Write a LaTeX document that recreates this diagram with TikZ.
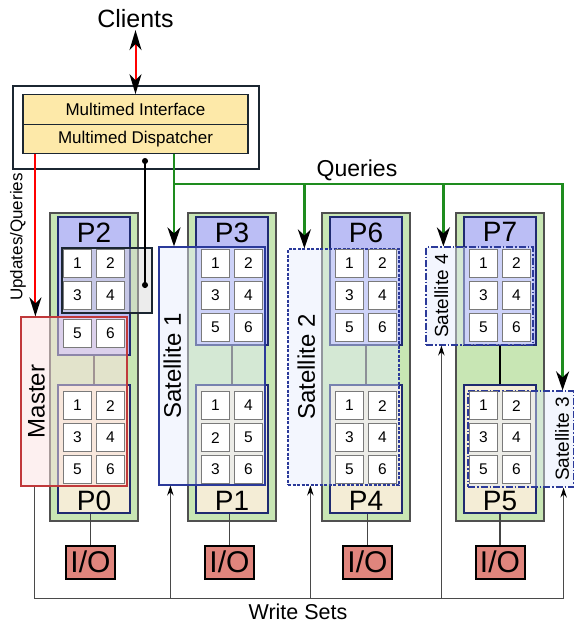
\documentclass[tikz,border=0pt]{standalone}
\usepackage{fontspec}
\setmainfont{Liberation Sans}
\usetikzlibrary{arrows.meta,positioning}

\definecolor{columngreen}{HTML}{C8E6B4}
\definecolor{columnedge}{HTML}{505050}
\definecolor{parttop}{HTML}{BBBEF5}
\definecolor{partbottom}{HTML}{F4EDD6}
\definecolor{partedge}{HTML}{1F2A70}
\definecolor{celledge}{HTML}{7A7A7A}
\definecolor{linkgray}{HTML}{454545}
\definecolor{frontyellow}{HTML}{FDE9A9}
\definecolor{frontedge}{HTML}{1B2631}
\definecolor{iored}{HTML}{E0857D}
\definecolor{masterred}{HTML}{C0393B}
\definecolor{masterpink}{HTML}{FCE2E2}
\definecolor{satblue}{HTML}{2B3A9A}
\definecolor{satfill}{HTML}{E4ECFC}
\definecolor{monitorgray}{HTML}{D4D4D4}
\definecolor{querygreen}{HTML}{1E8C1E}
\definecolor{writegray}{HTML}{4A4A4A}

\begin{document}
\begin{tikzpicture}[
		x=1pt, y=-1pt,
		column/.style={draw=columnedge, fill=columngreen, line width=1.2pt, minimum width=88pt, minimum height=308pt},
		top part/.style={draw=partedge, fill=parttop, line width=1.5pt, minimum width=72pt, minimum height=128pt},
		bottom part/.style={draw=partedge, fill=partbottom, line width=1.5pt, minimum width=72pt, minimum height=128pt},
		cell/.style={draw=celledge, fill=white, line width=1.3pt, minimum size=28pt, inner sep=0pt, font=\fontsize{15.5}{16}\selectfont},
		part name/.style={inner sep=0pt, font=\fontsize{28}{28}\selectfont},
		part link/.style={draw=linkgray, line width=1.5pt},
		io/.style={draw=black, fill=iored, line width=2pt, minimum width=49pt, minimum height=33pt, inner sep=0pt, font=\fontsize{30}{30}\selectfont},
		layer/.style={draw=frontedge, fill=frontyellow, line width=1.3pt, minimum width=225pt, minimum height=29.5pt, font=\fontsize{17}{17}\selectfont},
		master/.style={draw=masterred, fill=masterpink, fill opacity=0.5, line width=1.2pt, minimum width=106pt, minimum height=169pt},
		monitor/.style={draw=frontedge, fill=monitorgray, fill opacity=0.45, line width=1.3pt, minimum width=90pt, minimum height=65pt},
		satellite/.style={draw=satblue, fill=satfill, fill opacity=0.45, line width=1.2pt},
		dashdot/.style={dash pattern=on 7pt off 2pt on 1.5pt off 2pt},
		side name/.style={rotate=90, inner sep=0pt, font=\fontsize{24}{24}\selectfont},
		small side name/.style={rotate=90, inner sep=0pt, font=\fontsize{19}{19}\selectfont},
		caption/.style={inner sep=0pt, font=\fontsize{23}{23}\selectfont},
		query/.style={draw=querygreen, line width=2.3pt, -{Stealth[black, length=19pt, width=13pt, inset=6pt]}},
		update/.style={draw=red, line width=2pt, -{Stealth[black, length=19pt, width=12pt, inset=6pt]}},
		write set/.style={draw=writegray, line width=0.9pt, -{Stealth[black, length=10pt, width=6.5pt, inset=3.5pt]}},
	]
	\useasboundingbox (0,0) rectangle (575,625);

	% front end
	\node[draw=frontedge, line width=1.8pt, minimum width=246pt, minimum height=83pt] (frontend) at (136,127.5) {};
	\node[layer] (interface) at (135.5,109.5) {Multimed Interface};
	\node[layer] (dispatcher) at (135.5,139) {Multimed Dispatcher};
	\node[inner sep=2pt, font=\fontsize{25}{25}\selectfont, above=64pt of interface] (clients) {Clients};

	% nodes
	\node[column] (column 1) at (94,367) {};
	\node[column] (column 2) at (232,367) {};
	\node[column] (column 3) at (366,367) {};
	\node[column] (column 4) at (500,367) {};

	\node[top part, minimum height=138pt, below=4pt of column 1.north] (p2) {};
	\node[top part, below=4pt of column 2.north] (p3) {};
	\node[top part, below=4pt of column 3.north] (p6) {};
	\node[top part, below=4pt of column 4.north] (p7) {};
	\node[bottom part, above=8pt of column 1.south] (p0) {};
	\node[bottom part, above=8pt of column 2.south] (p1) {};
	\node[bottom part, above=8pt of column 3.south] (p4) {};
	\node[bottom part, above=8pt of column 4.south] (p5) {};

	\draw[part link] (p2) -- (p0);
	\draw[part link] (p3) -- (p1);
	\draw[part link] (p6) -- (p4);
	\draw[part link, draw=black, line width=2pt] (p7) -- (p5);

	\node[io, below=23pt of column 1, xshift=-3.5pt] (io 0) {I/O};
	\node[io, below=23pt of column 2, xshift=-2.5pt] (io 1) {I/O};
	\node[io, below=23pt of column 3, xshift=1.5pt] (io 4) {I/O};
	\node[io, below=23pt of column 4] (io 5) {I/O};
	\draw[part link, line width=1.2pt] (io 0) -- (io 0 |- p0.south);
	\draw[part link, line width=1.2pt] (io 1) -- (io 1 |- p1.south);
	\draw[part link, line width=1.2pt] (io 4) -- (io 4 |- p4.south);
	\draw[part link, line width=1.2pt] (io 5) -- (io 5 |- p5.south);

	% replicas
	\node[master] (master) at (74,401.5) {};
	\node[monitor] (monitor) at (107,280.5) {};
	\node[satellite, minimum width=106pt, minimum height=238pt] (satellite 1) at (212,366) {};
	\node[satellite, dash pattern=on 3pt off 1.5pt, minimum width=111pt, minimum height=236pt] (satellite 2) at (343.5,367) {};
	\node[satellite, dashdot, minimum width=107pt, minimum height=98pt] (satellite 4) at (479.5,296) {};
	\node[satellite, dashdot, minimum width=105.5pt, minimum height=96pt] (satellite 3) at (520.75,439) {};

	% partitions
	\foreach \part/\last in {p2/117,p3/111,p6/111,p7/111}
		\foreach \n/\dx/\dy in {1/-16.5/47,2/16.5/47,3/-16.5/79,4/16.5/79,5/-16.5/\last,6/16.5/\last}
			\node[cell] (\part-\n) at ([xshift=\dx pt, yshift=-\dy pt]\part.north) {\n};
	\foreach \n/\m/\dx/\dy in {1/1/-16.5/108,2/4/16.5/108,3/2/-16.5/76,4/5/16.5/76,5/3/-16.5/44,6/6/16.5/44} {
		\foreach \part in {p0,p4,p5}
			\node[cell] (\part-\n) at ([xshift=\dx pt, yshift=\dy pt]\part.south) {\n};
		\node[cell] (p1-\n) at ([xshift=\dx pt, yshift=\dy pt]p1.south) {\m};
	}

	\node[part name, below=6pt of p2.north] (p2 name) {P2};
	\node[part name, below=6pt of p3.north] (p3 name) {P3};
	\node[part name, below=6pt of p6.north] (p6 name) {P6};
	\node[part name, below=6pt of p7.north] (p7 name) {P7};
	\node[part name, above=3pt of p0.south] (p0 name) {P0};
	\node[part name, above=3pt of p1.south] (p1 name) {P1};
	\node[part name, above=3pt of p4.south] (p4 name) {P4};
	\node[part name, above=3pt of p5.south] (p5 name) {P5};

	\node[side name] (master name) at ([xshift=16pt]master.west) {Master};
	\node[side name] (satellite 1 name) at ([xshift=14pt]satellite 1.west) {Satellite 1};
	\node[side name] (satellite 2 name) at ([xshift=19pt]satellite 2.west) {Satellite 2};
	\node[small side name] (satellite 4 name) at ([xshift=16pt]satellite 4.west) {Satellite 4};
	\node[small side name] (satellite 3 name) at ([xshift=-12pt]satellite 3.east) {Satellite 3};

	% connectors
	\draw[update, {Stealth[black, length=20pt, width=12pt, inset=6pt]}-{Stealth[black, length=20pt, width=12pt, inset=6pt]}] (clients) -- (interface);

	\coordinate (master in) at ([xshift=15pt]master.north west);
	\draw[update] (dispatcher.south -| master in) -- (master in);
	\node[rotate=90, inner sep=0pt, font=\fontsize{17}{17}\selectfont] (updates) at (18,237) {Updates/Queries};

	\coordinate (query split) at (174,184);
	\coordinate (satellite 2 in) at ([xshift=17pt]satellite 2.north west);
	\coordinate (satellite 4 in) at ([xshift=18pt]satellite 4.north west);
	\coordinate (satellite 3 in) at ([xshift=-11.5pt]satellite 3.north east);
	\draw[query] (dispatcher.south -| query split) -- (query split) -| (satellite 3 in);
	\draw[query] (query split) -- (query split |- satellite 1.north);
	\draw[query] (query split -| satellite 2 in) -- (satellite 2 in);
	\draw[query] (query split -| satellite 4 in) -- (satellite 4 in);
	\node[caption] (queries) at (357,170) {Queries};

	\coordinate (link top) at (145,158);
	\coordinate (link bottom) at (145,288);
	\draw[{Circle[length=6pt]}-{Circle[length=6pt]}, line width=1.4pt] (link top) -- (link bottom);

	\coordinate (write left) at (34.5,598);
	\coordinate (satellite 1 out) at ([xshift=12pt]satellite 1.south west);
	\coordinate (satellite 2 out) at ([xshift=23pt]satellite 2.south west);
	\coordinate (satellite 4 out) at ([xshift=16pt]satellite 4.south west);
	\coordinate (satellite 3 out) at ([xshift=-10.5pt]satellite 3.south east);
	\draw[write set] (master.south -| write left) -- (write left) -| (satellite 3 out);
	\draw[write set] (write left -| satellite 1 out) -- (satellite 1 out);
	\draw[write set] (write left -| satellite 2 out) -- (satellite 2 out);
	\draw[write set] (write left -| satellite 4 out) -- (satellite 4 out);
	\node[caption, font=\fontsize{21.5}{22}\selectfont] (write sets) at (298,612) {Write Sets};
\end{tikzpicture}
\end{document}
